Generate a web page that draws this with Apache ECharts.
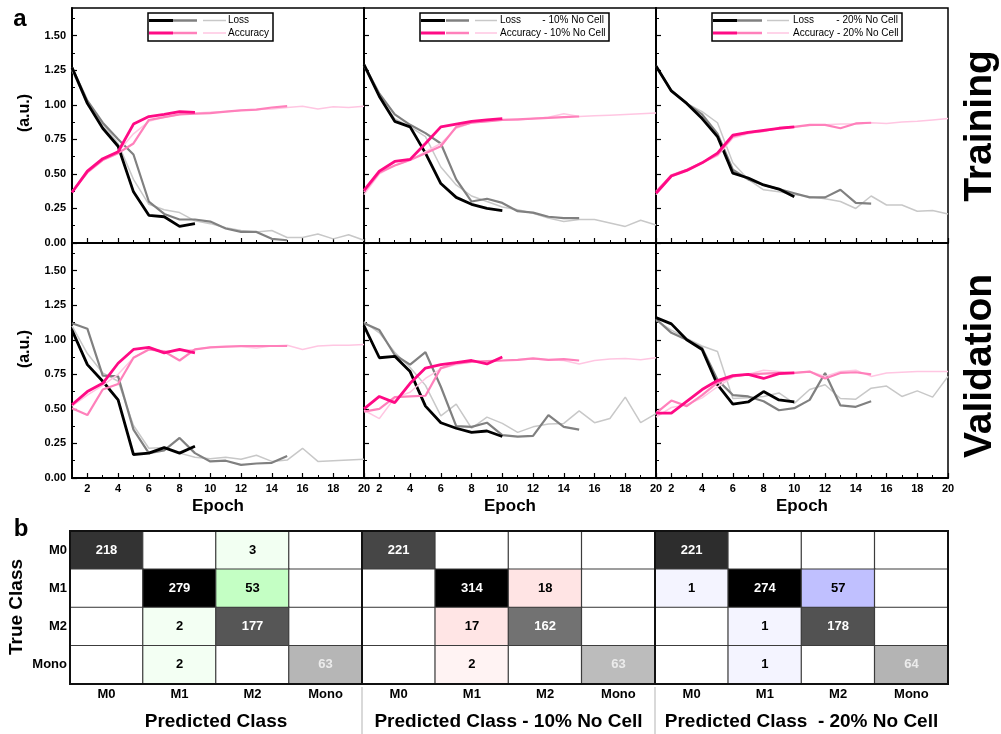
<!DOCTYPE html>
<html>
<head>
<meta charset="utf-8">
<script src="https://cdn.jsdelivr.net/npm/echarts@6/dist/echarts.min.js"></script>
<style>
  html, body { margin: 0; padding: 0; background: #fff; }
  #chart { width: 1001px; height: 734px; }
</style>
</head>
<body>
<div id="chart"></div>
<script>
// ---- data ----
var epochs = [1, 2, 3, 4, 5, 6, 7, 8, 9, 10, 11, 12, 13, 14, 15, 16, 17, 18, 19, 20];
var xTickLabels = [2, 4, 6, 8, 10, 12, 14, 16, 18, 20];
var xMinorTicks = [1, 3, 5, 7, 9, 11, 13, 15, 17, 19];
var yTickLabels = [0, 0.25, 0.5, 0.75, 1, 1.25, 1.5];
var yMinorTicks = [0.125, 0.375, 0.625, 0.875, 1.125, 1.375, 1.625];
var classes = ['M0', 'M1', 'M2', 'Mono'];

// training, 0% no cell (run1 = 9 epochs, run2 = 15, run3 = 20)
var tLoss0_1 = [1.27, 1.01, 0.83, 0.70, 0.37, 0.20, 0.19, 0.12, 0.14];
var tLoss0_2 = [1.27, 1.03, 0.87, 0.75, 0.64, 0.30, 0.21, 0.17, 0.17, 0.155, 0.105, 0.08, 0.08, 0.03, 0.02];
var tLoss0_3 = [1.25, 1.00, 0.86, 0.72, 0.46, 0.28, 0.24, 0.22, 0.16, 0.14, 0.11, 0.09, 0.08, 0.09, 0.04, 0.04, 0.065, 0.03, 0.06, 0.02];
var tAcc0_1 = [0.365, 0.52, 0.61, 0.66, 0.86, 0.915, 0.93, 0.95, 0.945];
var tAcc0_2 = [0.37, 0.51, 0.60, 0.65, 0.72, 0.89, 0.91, 0.93, 0.935, 0.94, 0.95, 0.96, 0.965, 0.98, 0.99];
var tAcc0_3 = [0.37, 0.52, 0.60, 0.66, 0.79, 0.88, 0.91, 0.93, 0.94, 0.945, 0.95, 0.96, 0.965, 0.97, 0.98, 0.99, 0.97, 0.985, 0.98, 0.99];

// training, 10% no cell
var tLoss10_1 = [1.29, 1.06, 0.88, 0.84, 0.65, 0.43, 0.33, 0.28, 0.25, 0.235];
var tLoss10_2 = [1.29, 1.08, 0.93, 0.855, 0.795, 0.72, 0.46, 0.30, 0.32, 0.29, 0.23, 0.22, 0.19, 0.18, 0.18];
var tLoss10_3 = [1.28, 1.06, 0.90, 0.84, 0.77, 0.55, 0.42, 0.34, 0.30, 0.26, 0.24, 0.215, 0.18, 0.155, 0.17, 0.17, 0.145, 0.12, 0.165, 0.13];
var tAcc10_1 = [0.38, 0.52, 0.59, 0.605, 0.72, 0.84, 0.86, 0.88, 0.89, 0.90];
var tAcc10_2 = [0.37, 0.51, 0.56, 0.60, 0.65, 0.70, 0.84, 0.87, 0.88, 0.89, 0.895, 0.90, 0.905, 0.91, 0.915];
var tAcc10_3 = [0.35, 0.50, 0.56, 0.60, 0.66, 0.72, 0.83, 0.87, 0.88, 0.89, 0.89, 0.90, 0.91, 0.935, 0.915, 0.92, 0.925, 0.93, 0.935, 0.94];

// training, 20% no cell
var tLoss20_1 = [1.28, 1.10, 1.01, 0.90, 0.77, 0.505, 0.47, 0.42, 0.39, 0.335];
var tLoss20_2 = [1.28, 1.10, 1.01, 0.93, 0.79, 0.53, 0.46, 0.42, 0.39, 0.36, 0.33, 0.33, 0.385, 0.29, 0.285];
var tLoss20_3 = [1.28, 1.10, 1.01, 0.95, 0.87, 0.58, 0.46, 0.385, 0.37, 0.35, 0.335, 0.32, 0.30, 0.25, 0.34, 0.275, 0.275, 0.23, 0.235, 0.21];
var tAcc20_1 = [0.36, 0.485, 0.525, 0.58, 0.65, 0.78, 0.80, 0.815, 0.83, 0.84];
var tAcc20_2 = [0.37, 0.49, 0.53, 0.58, 0.64, 0.77, 0.80, 0.81, 0.83, 0.84, 0.855, 0.855, 0.83, 0.865, 0.87];
var tAcc20_3 = [0.35, 0.48, 0.52, 0.58, 0.63, 0.76, 0.79, 0.81, 0.83, 0.84, 0.85, 0.855, 0.86, 0.86, 0.87, 0.865, 0.875, 0.88, 0.89, 0.90];

// validation, 0% no cell
var vLoss0_1 = [1.07, 0.82, 0.70, 0.565, 0.17, 0.18, 0.22, 0.18, 0.23];
var vLoss0_2 = [1.12, 1.08, 0.74, 0.735, 0.35, 0.18, 0.20, 0.29, 0.18, 0.12, 0.125, 0.095, 0.105, 0.11, 0.16];
var vLoss0_3 = [1.10, 0.90, 0.76, 0.70, 0.38, 0.215, 0.22, 0.18, 0.15, 0.14, 0.15, 0.135, 0.165, 0.12, 0.13, 0.215, 0.12, 0.125, 0.13, 0.135];
var vAcc0_1 = [0.53, 0.625, 0.685, 0.83, 0.93, 0.945, 0.905, 0.93, 0.905];
var vAcc0_2 = [0.505, 0.455, 0.64, 0.68, 0.87, 0.93, 0.915, 0.85, 0.93, 0.945, 0.95, 0.955, 0.955, 0.955, 0.955];
var vAcc0_3 = [0.52, 0.60, 0.67, 0.75, 0.87, 0.93, 0.92, 0.92, 0.93, 0.945, 0.95, 0.95, 0.94, 0.955, 0.96, 0.93, 0.955, 0.96, 0.96, 0.965];

// validation, 10% no cell
var vLoss10_1 = [1.10, 0.87, 0.88, 0.77, 0.52, 0.40, 0.36, 0.33, 0.34, 0.30];
var vLoss10_2 = [1.12, 1.07, 0.89, 0.82, 0.91, 0.66, 0.375, 0.37, 0.40, 0.31, 0.30, 0.305, 0.455, 0.37, 0.35];
var vLoss10_3 = [1.13, 1.05, 0.91, 0.80, 0.67, 0.45, 0.535, 0.36, 0.44, 0.395, 0.33, 0.37, 0.39, 0.395, 0.485, 0.40, 0.43, 0.585, 0.40, 0.465];
var vAcc10_1 = [0.50, 0.59, 0.545, 0.685, 0.795, 0.82, 0.835, 0.85, 0.825, 0.875];
var vAcc10_2 = [0.48, 0.50, 0.585, 0.59, 0.595, 0.795, 0.83, 0.84, 0.845, 0.85, 0.855, 0.865, 0.855, 0.86, 0.85];
var vAcc10_3 = [0.49, 0.43, 0.58, 0.62, 0.72, 0.79, 0.82, 0.84, 0.845, 0.85, 0.855, 0.86, 0.855, 0.85, 0.825, 0.85, 0.86, 0.865, 0.855, 0.87];

// validation, 20% no cell
var vLoss20_1 = [1.16, 1.115, 1.0, 0.93, 0.675, 0.535, 0.55, 0.625, 0.565, 0.55];
var vLoss20_2 = [1.15, 1.05, 1.0, 0.94, 0.71, 0.60, 0.59, 0.555, 0.49, 0.505, 0.565, 0.76, 0.525, 0.515, 0.555];
var vLoss20_3 = [1.14, 1.07, 1.01, 0.955, 0.915, 0.575, 0.58, 0.59, 0.615, 0.54, 0.64, 0.675, 0.575, 0.57, 0.65, 0.665, 0.59, 0.63, 0.585, 0.735];
var vAcc20_1 = [0.47, 0.47, 0.555, 0.64, 0.705, 0.74, 0.75, 0.72, 0.755, 0.76];
var vAcc20_2 = [0.47, 0.56, 0.52, 0.60, 0.69, 0.735, 0.75, 0.755, 0.76, 0.76, 0.77, 0.72, 0.76, 0.765, 0.75];
var vAcc20_3 = [0.44, 0.51, 0.53, 0.58, 0.66, 0.73, 0.75, 0.78, 0.77, 0.76, 0.77, 0.735, 0.77, 0.78, 0.735, 0.76, 0.765, 0.77, 0.77, 0.77];

// confusion matrices (rows = true class, cols = predicted class)
var cm0 = [[218, 0, 3, 0], [0, 279, 53, 0], [0, 2, 177, 0], [0, 2, 0, 63]];
var cm10 = [[221, 0, 0, 0], [0, 314, 18, 0], [0, 17, 162, 0], [0, 2, 0, 63]];
var cm20 = [[221, 0, 0, 0], [1, 274, 57, 0], [0, 1, 178, 0], [0, 1, 0, 64]];

// ---- layout / styles ----
var FONT = 'Liberation Sans, Arial, sans-serif';
var colLeft = [72, 364, 656], colW = 292;
var rowTop = [8, 243], rowH = 235;
var hmLeft = [70, 362, 655], hmW = [292, 293, 293], hmTop = 531, hmH = 153;

var lossColors = ['#c8c8c8', '#808080', '#000000'];
var accColors = ['#ffc6e2', '#ff80bb', '#ff0a85'];
var widths = [1.5, 2.2, 2.8];

var panels = [
  [[tLoss0_3, tLoss0_2, tLoss0_1], [tAcc0_3, tAcc0_2, tAcc0_1]],
  [[tLoss10_3, tLoss10_2, tLoss10_1], [tAcc10_3, tAcc10_2, tAcc10_1]],
  [[tLoss20_3, tLoss20_2, tLoss20_1], [tAcc20_3, tAcc20_2, tAcc20_1]],
  [[vLoss0_3, vLoss0_2, vLoss0_1], [vAcc0_3, vAcc0_2, vAcc0_1]],
  [[vLoss10_3, vLoss10_2, vLoss10_1], [vAcc10_3, vAcc10_2, vAcc10_1]],
  [[vLoss20_3, vLoss20_2, vLoss20_1], [vAcc20_3, vAcc20_2, vAcc20_1]]
];
var matrices = [cm0, cm10, cm20];
var tints = ['g', 'r', 'b'];

var grids = [], xAxes = [], yAxes = [], series = [];

panels.forEach(function (p, i) {
  var row = Math.floor(i / 3), col = i % 3;
  var bottom = row === 1;
  grids.push({
    left: colLeft[col], top: rowTop[row], width: colW, height: rowH,
    show: true, borderColor: '#000', borderWidth: 1.5, backgroundColor: 'transparent'
  });
  xAxes.push({
    type: 'value', gridIndex: i, min: 1, max: 20,
    axisLine: { lineStyle: { color: '#000', width: 2 } },
    axisTick: { inside: true, length: 5, customValues: xTickLabels, lineStyle: { color: '#000', width: 1.2 } },
    axisLabel: {
      show: bottom, customValues: xTickLabels, color: '#000', fontWeight: 'bold',
      fontSize: 11, fontFamily: FONT, margin: 5
    },
    splitLine: { show: false },
    name: bottom ? 'Epoch' : '', nameLocation: 'middle', nameGap: 20,
    nameTextStyle: { color: '#000', fontSize: 17, fontWeight: 'bold', fontFamily: FONT }
  });
  yAxes.push({
    type: 'value', gridIndex: i, min: 0, max: 1.7,
    axisLine: { show: true, lineStyle: { color: '#000', width: 2 } },
    axisTick: { show: true, inside: true, length: 5, customValues: yTickLabels, lineStyle: { color: '#000', width: 1.2 } },
    axisLabel: {
      show: col === 0, customValues: yTickLabels, color: '#000', fontWeight: 'bold',
      fontSize: 11, fontFamily: FONT, margin: 6,
      formatter: function (v) { return v.toFixed(2); }
    },
    splitLine: { show: false }
  });
  [0, 1].forEach(function (kind) {
    p[kind].forEach(function (vals, r) {
      var c = kind === 0 ? lossColors[r] : accColors[r];
      series.push({
        type: 'line', xAxisIndex: i, yAxisIndex: i,
        data: vals.map(function (v, k) { return [epochs[k], v]; }),
        symbol: 'none', silent: true,
        lineStyle: { color: c, width: widths[r] },
        itemStyle: { color: c },
        z: 2 + kind * 3 + r
      });
    });
  });
});

function offColor(v, tint) {
  var c = Math.round(245 - v * 0.93);
  if (tint === 'g') return 'rgb(' + c + ',255,' + c + ')';
  if (tint === 'r') return 'rgb(255,' + c + ',' + c + ')';
  return 'rgb(' + c + ',' + c + ',255)';
}

var graphics = [];

matrices.forEach(function (m, j) {
  var gi = 6 + j;
  var max = 0;
  m.forEach(function (r, ri) { max = Math.max(max, r[ri]); });
  grids.push({ left: hmLeft[j], top: hmTop, width: hmW[j], height: hmH });
  xAxes.push({
    type: 'category', gridIndex: gi, data: classes, position: 'bottom',
    axisLine: { show: false }, axisTick: { show: false },
    axisLabel: { color: '#000', fontWeight: 'bold', fontSize: 13, fontFamily: FONT, margin: 4 },
    splitLine: { show: false },
    name: ['Predicted Class', 'Predicted Class - 10% No Cell', 'Predicted Class  - 20% No Cell'][j],
    nameLocation: 'middle', nameGap: 28,
    nameTextStyle: { color: '#000', fontSize: 19, fontWeight: 'bold', fontFamily: FONT }
  });
  yAxes.push({
    type: 'category', gridIndex: gi, data: classes, inverse: true,
    axisLine: { show: false }, axisTick: { show: false },
    axisLabel: { show: j === 0, color: '#000', fontWeight: 'bold', fontSize: 13, fontFamily: FONT, margin: 3 },
    splitLine: { show: false }
  });
  var data = [];
  m.forEach(function (r, ri) {
    r.forEach(function (v, ci) {
      var fill, txt;
      if (v === 0) { fill = '#ffffff'; txt = '#000'; }
      else if (ri === ci) {
        var g = Math.round(235 * (1 - v / max));
        fill = 'rgb(' + g + ',' + g + ',' + g + ')';
        txt = g < 128 ? '#ffffff' : '#ececec';
      } else { fill = offColor(v, tints[j]); txt = '#000'; }
      data.push({ value: [ci, ri, v], itemStyle: { color: fill }, label: { color: txt } });
    });
  });
  series.push({
    type: 'heatmap', xAxisIndex: gi, yAxisIndex: gi, data: data, silent: true,
    itemStyle: { borderColor: '#3c3c3c', borderWidth: 1.2 },
    label: {
      show: true, fontWeight: 'bold', fontSize: 13, fontFamily: FONT,
      formatter: function (p) { return p.value[2] > 0 ? String(p.value[2]) : ''; }
    }
  });
  graphics.push({
    type: 'rect', shape: { x: hmLeft[j], y: hmTop, width: hmW[j], height: hmH },
    style: { fill: 'none', stroke: '#111', lineWidth: 2 }, z: 100
  });
});

// extra axes on the line grids that carry only the short minor ticks
panels.forEach(function (p, i) {
  xAxes.push({
    type: 'value', gridIndex: i, min: 1, max: 20, position: 'bottom',
    axisLine: { show: false }, axisLabel: { show: false }, splitLine: { show: false },
    axisTick: { show: true, inside: true, length: 3, customValues: xMinorTicks, lineStyle: { color: '#000', width: 1 } }
  });
  yAxes.push({
    type: 'value', gridIndex: i, min: 0, max: 1.7, position: 'left',
    axisLine: { show: false }, axisLabel: { show: false }, splitLine: { show: false },
    axisTick: { show: true, inside: true, length: 3, customValues: yMinorTicks, lineStyle: { color: '#000', width: 1 } }
  });
});

// separators under matrices
[362, 655].forEach(function (x) {
  graphics.push({ type: 'line', shape: { x1: x, y1: 687, x2: x, y2: 734 }, style: { stroke: '#cccccc', lineWidth: 1.5 }, z: 100 });
});

// legends
function legend(bx, bw, segs, tx, row1, suffix, row2, sufRight) {
  var items = [];
  items.push({ type: 'rect', shape: { x: bx, y: 13, width: bw, height: 28 }, style: { fill: '#fff', stroke: '#000', lineWidth: 1.5 }, z: 100 });
  var lw = [3, 2.5, 1.5];
  var lc = [lossColors[2], lossColors[1], lossColors[0]];
  var ac = [accColors[2], accColors[1], accColors[0]];
  segs.forEach(function (s, k) {
    items.push({ type: 'line', shape: { x1: s[0], y1: 20.5, x2: s[1], y2: 20.5 }, style: { stroke: lc[k], lineWidth: lw[k] }, z: 101 });
    items.push({ type: 'line', shape: { x1: s[0], y1: 33, x2: s[1], y2: 33 }, style: { stroke: ac[k], lineWidth: lw[k] }, z: 101 });
  });
  var ts = function (t, x, y, align) {
    return { type: 'text', x: x, y: y, z: 101, style: { text: t, fill: '#000', font: '10px ' + FONT, textAlign: align, textVerticalAlign: 'middle' } };
  };
  items.push(ts(row1, tx, 20.5, 'left'));
  if (suffix) items.push(ts(suffix, sufRight, 20.5, 'right'));
  items.push(ts(row2, tx, 33, 'left'));
  return items;
}
graphics = graphics.concat(
  legend(148, 125, [[149, 173], [173, 197], [203, 226]], 228, 'Loss', null, 'Accuracy'),
  legend(420, 189, [[421, 445], [446, 469], [475, 497]], 500, 'Loss', '- 10% No Cell', 'Accuracy - 10% No Cell', 604),
  legend(712, 190, [[713, 737], [737, 762], [767, 789]], 793, 'Loss', '- 20% No Cell', 'Accuracy - 20% No Cell', 898)
);

function label(t, x, y, size, rot) {
  return {
    type: 'text', x: x, y: y, rotation: rot || 0, z: 100,
    style: { text: t, fill: '#000', font: 'bold ' + size + 'px ' + FONT, textAlign: 'center', textVerticalAlign: 'middle' }
  };
}
graphics.push(
  label('a', 20, 19, 24),
  label('b', 21, 529, 24),
  label('(a.u.)', 25, 113, 16, Math.PI / 2),
  label('(a.u.)', 25, 349, 16, Math.PI / 2),
  label('True Class', 17, 607, 19, Math.PI / 2),
  label('Training', 980, 126, 39, Math.PI / 2),
  label('Validation', 980, 366, 39, Math.PI / 2)
);

var chart = echarts.init(document.getElementById('chart'));
chart.setOption({
  animation: false,
  backgroundColor: '#fff',
  textStyle: { fontFamily: FONT },
  grid: grids,
  xAxis: xAxes,
  yAxis: yAxes,
  series: series,
  graphic: graphics
});
</script>
</body>
</html>
